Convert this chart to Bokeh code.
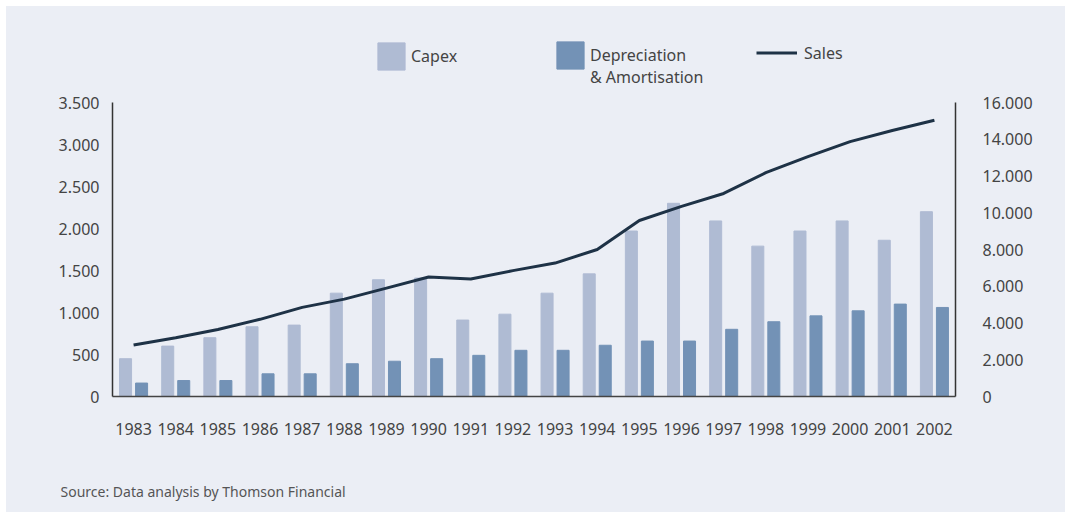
from bokeh.plotting import figure
from bokeh.models import (FactorRange, Range1d, LinearAxis, FixedTicker, CustomJSTickFormatter,
                          Legend, LegendItem, Title, ColumnDataSource)
from bokeh.transform import dodge
from bokeh.embed import file_html
from bokeh.resources import INLINE

years = [str(y) for y in range(1983, 2003)]
capex = [450, 600, 700, 830, 850, 1230, 1390, 1410, 910, 980, 1230, 1460, 1970, 2300, 2090, 1790, 1970, 2090, 1860, 2200]
dep_amort = [160, 190, 190, 270, 270, 390, 420, 450, 490, 550, 550, 610, 660, 660, 800, 890, 960, 1020, 1100, 1060]
sales = [2800, 3200, 3650, 4200, 4850, 5300, 5900, 6500, 6390, 6850, 7260, 8000, 9580, 10350, 11050, 12180, 13050, 13870, 14480, 15030]
left_ticks = [0, 500, 1000, 1500, 2000, 2500, 3000, 3500]
right_ticks = [0, 2000, 4000, 6000, 8000, 10000, 12000, 14000, 16000]
left_max = 3500
right_max = 16000

BG = "#EBEEF5"
C_CAPEX = "#AFBBD3"
C_DA = "#7392B6"
C_SALES = "#1E3246"
TXT = "#444444"
FONT = "Noto Sans"

# layout: frame extends above the axes' top so the legend can sit inside it
W, H = 1059, 506
TOP, BOTTOM, LEFT, RIGHT = 20, 116, 106, 110
frame_h = H - TOP - BOTTOM          # 370 px
axis_h = 294                        # px used by the 0..3500 scale
scale = frame_h / axis_h

src = ColumnDataSource(dict(year=years, capex=capex, da=dep_amort, sales=sales))

p = figure(width=W, height=H, x_range=FactorRange(*years, range_padding=0),
           y_range=Range1d(0, left_max * scale), output_backend="svg", toolbar_location=None,
           min_border_left=LEFT, min_border_right=RIGHT, min_border_top=TOP, min_border_bottom=BOTTOM)
p.margin = (6, 0, 0, 6)
p.styles = {"background-color": BG}
p.extra_y_ranges = {"sales": Range1d(0, right_max * scale)}
p.background_fill_color = BG
p.border_fill_color = BG
p.outline_line_color = None
p.xgrid.grid_line_color = None
p.ygrid.grid_line_color = None

r_capex = p.vbar(x=dodge("year", -0.19, range=p.x_range), top="capex", width=0.285,
                 source=src, color=C_CAPEX)
r_da = p.vbar(x=dodge("year", 0.19, range=p.x_range), top="da", width=0.285,
              source=src, color=C_DA)
r_sales = p.line(x="year", y="sales", source=src, y_range_name="sales",
                 line_color=C_SALES, line_width=3)
r_blank = p.scatter(x=[], y=[], fill_alpha=0, line_alpha=0)

fmt = CustomJSTickFormatter(code="return tick.toFixed(0).replace(/\\B(?=(\\d{3})+(?!\\d))/g, '.');")

def style_axis(ax, standoff):
    ax.major_tick_line_color = None
    ax.minor_tick_line_color = None
    ax.axis_line_color = "#333333"
    ax.axis_line_width = 1.5
    ax.major_label_text_font = FONT
    ax.major_label_text_font_size = "16px"
    ax.major_label_text_color = TXT
    ax.major_label_standoff = standoff

yl = p.yaxis[0]
yl.ticker = FixedTicker(ticks=left_ticks)
yl.formatter = fmt
yl.bounds = (0, left_max)
style_axis(yl, 7)

yr = LinearAxis(y_range_name="sales", ticker=FixedTicker(ticks=right_ticks), formatter=fmt,
                bounds=(0, right_max))
style_axis(yr, 21)
p.add_layout(yr, "right")

xa = p.xaxis[0]
style_axis(xa, 20)
xa.axis_line_color = "#444444"
# invisible spacer label to push the source note further down
xa.axis_label = " "
xa.axis_label_text_font_size = "1px"
xa.axis_label_standoff = 36

def mk_legend(item, loc, gw=34, gh=34, standoff=3):
    lg = Legend(items=[item], location=loc, orientation="horizontal",
                glyph_width=gw, glyph_height=gh, label_standoff=standoff,
                label_text_font=FONT, label_text_font_size="16px", label_text_color=TXT,
                padding=0, margin=0, spacing=0, border_line_color=None,
                background_fill_alpha=0)
    p.add_layout(lg)

mk_legend(LegendItem(label="Capex", renderers=[r_capex]), (262, 323))
mk_legend(LegendItem(label="Depreciation", renderers=[r_da]), (441, 324))
mk_legend(LegendItem(label="& Amortisation", renderers=[r_blank]), (441, 302))
mk_legend(LegendItem(label="Sales", renderers=[r_sales]), (644, 330), gw=41, gh=27, standoff=7)

p.add_layout(Title(text="Source: Data analysis by Thomson Financial", align="left", offset=-52,
                   standoff=4, text_font=FONT, text_font_size="14px", text_color="#555555",
                   text_font_style="normal"), "below")

open("out.html", "w").write(file_html(p, INLINE))
